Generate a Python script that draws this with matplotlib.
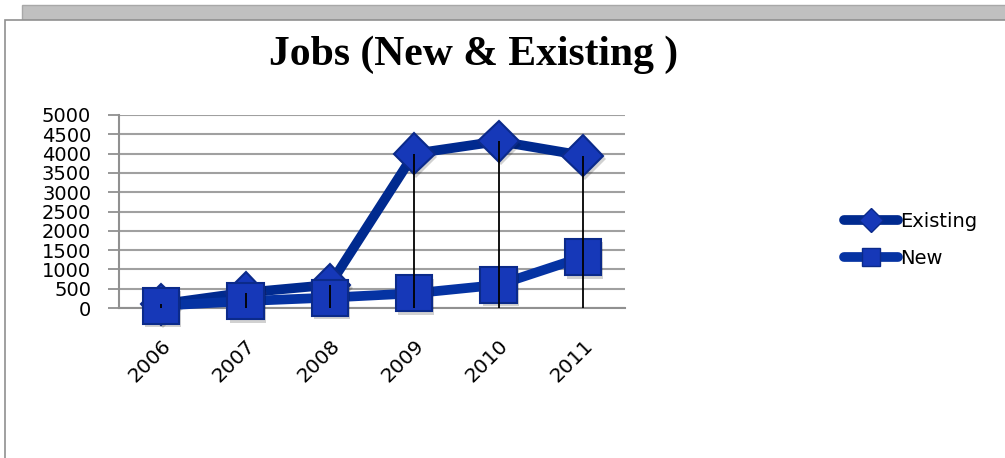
import matplotlib
matplotlib.use("Agg")
import matplotlib.pyplot as plt
from matplotlib.patches import Rectangle
from matplotlib.lines import Line2D
import matplotlib.patheffects as pe

years = ["2006", "2007", "2008", "2009", "2010", "2011"]
existing = [100, 400, 600, 4000, 4320, 3950]
new = [60, 180, 270, 380, 600, 1320]
yticks = [0, 500, 1000, 1500, 2000, 2500, 3000, 3500, 4000, 4500, 5000]

W, H = 1005, 458
fig = plt.figure(figsize=(W / 100, H / 100), dpi=100)
fig.patch.set_facecolor("white")

# background frames
fig.patches.append(Rectangle((22 / W, 1 - 20 / H), 1, 15 / H, transform=fig.transFigure,
                             facecolor="#c0c0c0", edgecolor="#a8a8a8", lw=1, zorder=-2))
fig.patches.append(Rectangle((5 / W, -0.01), 1.0, 1 - 20 / H + 0.01, transform=fig.transFigure,
                             facecolor="white", edgecolor="#909090", lw=1.2, zorder=-1))

ax = fig.add_axes([119 / W, 1 - 308 / H, 506 / W, 193 / H])
ax.set_zorder(2)
ax.set_facecolor("none")
x = list(range(len(years)))

ex_line = "#002a8f"
new_line = "#0533a3"
face = "#1638b8"
edge = "#0b2a8a"
shadow = [pe.SimplePatchShadow(offset=(1.5, -2.5), shadow_rgbFace="black", alpha=0.18), pe.Normal()]

ax.plot(x, existing, color=ex_line, lw=7, solid_joinstyle="round", zorder=3, clip_on=False)
ax.plot(x, existing, ls="none", marker="D", markersize=21, markerfacecolor=face,
        markeredgecolor=edge, markeredgewidth=1.5, zorder=3.5, clip_on=False,
        path_effects=shadow)
ax.plot(x, new, color=new_line, lw=7, solid_joinstyle="round", zorder=4, clip_on=False)
ax.plot(x, new, ls="none", marker="s", markersize=26, markerfacecolor=face,
        markeredgecolor=edge, markeredgewidth=1.5, zorder=4.5, clip_on=False,
        path_effects=shadow)
ax.vlines(x, 0, existing, color="black", lw=1.3, zorder=6)

ax.set_xlim(-0.5, len(years) - 0.5)
ax.set_ylim(0, 5000)
ax.set_yticks(yticks)
ax.set_yticklabels([str(v) for v in yticks], fontsize=14, family="DejaVu Sans")
ax.set_xticks(x)
ax.set_xticklabels(years, fontsize=14.5, family="DejaVu Sans", rotation=45,
                   ha="right", rotation_mode="anchor")
ax.tick_params(axis="x", length=0, pad=20)
ax.tick_params(axis="y", length=8, color="#909090", width=1.3, pad=12)
ax.grid(axis="y", color="#a0a0a0", lw=1.5, zorder=0)
ax.set_axisbelow(True)
for s in ["top", "right"]:
    ax.spines[s].set_visible(False)
ax.spines["left"].set_color("#909090")
ax.spines["left"].set_linewidth(1.5)
ax.spines["bottom"].set_color("#909090")
ax.spines["bottom"].set_linewidth(1.5)

fig.text(474 / W, 1 - 55 / H, "Jobs (New & Existing )", ha="center", va="center",
         fontsize=30, fontweight="bold", family="Liberation Serif")

handles = [
    Line2D([], [], color=ex_line, lw=7, solid_capstyle="round", marker="D", markersize=12,
           markerfacecolor=face, markeredgecolor=edge),
    Line2D([], [], color=new_line, lw=7, solid_capstyle="round", marker="s", markersize=13,
           markerfacecolor=face, markeredgecolor=edge),
]
leg = fig.legend(handles, ["Existing", "New"], loc="center left",
                 bbox_to_anchor=(826 / W, 1 - 240 / H), frameon=False,
                 prop={"family": "DejaVu Sans", "size": 14},
                 handlelength=2.8, labelspacing=0.9, handletextpad=0.1)

fig.savefig("out.png", dpi=100)
